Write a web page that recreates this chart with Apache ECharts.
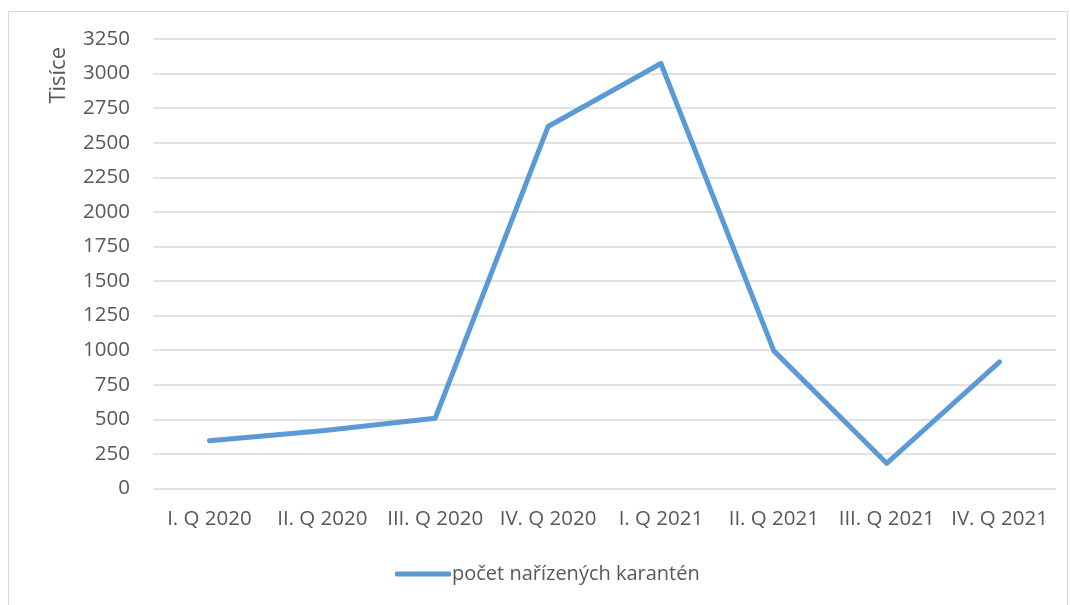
<!DOCTYPE html>
<html>
<head>
<meta charset="utf-8">
<script src="https://cdn.jsdelivr.net/npm/echarts@6/dist/echarts.min.js"></script>
<style>
    html, body { margin: 0; padding: 0; background: #fff; }
    #frame { position: absolute; left: 8px; top: 11px; width: 1060px; height: 600px; border: 1px solid #d9d9d9; box-sizing: border-box; }
    #chart { position: absolute; left: 0; top: 0; width: 1070px; height: 605px; }
</style>
</head>
<body>
<div id="frame"></div>
<div id="chart"></div>
<script type="text/javascript">
    // kvartály
    var quarters = ['I. Q 2020', 'II. Q 2020', 'III. Q 2020', 'IV. Q 2020', 'I. Q 2021', 'II. Q 2021', 'III. Q 2021', 'IV. Q 2021'];
    // počet nařízených karantén (tisíce)
    var quarantines = [346, 418, 508, 2617, 3073, 995, 182, 916];
    var seriesName = 'počet nařízených karantén';

    var myChart = echarts.init(document.getElementById('chart'));
    var textColor = '#595959';
    var fontFamily = '"Open Sans", "Noto Sans", sans-serif';

    var option = {
        animation: false,
        grid: { left: 153, right: 14, top: 39, bottom: 116.5 },
        legend: {
            left: 390,
            top: 559,
            data: [seriesName],
            itemWidth: 56,
            itemHeight: 5,
            itemGap: 4,
            icon: 'roundRect',
            textStyle: { color: textColor, fontSize: 20, fontFamily: fontFamily, padding: [0, 0, 0, -4] }
        },
        graphic: [{
            type: 'text',
            left: 48,
            top: 47,
            rotation: Math.PI / 2,
            style: { text: 'Tisíce', fill: textColor, font: '22px ' + fontFamily }
        }],
        xAxis: {
            type: 'category',
            data: quarters,
            boundaryGap: true,
            axisLine: { show: false },
            axisTick: { show: false },
            axisLabel: { color: textColor, fontSize: 20.5, fontFamily: fontFamily, margin: 20, interval: 0 }
        },
        yAxis: {
            type: 'value',
            min: 0,
            max: 3250,
            interval: 250,
            axisLine: { show: false },
            axisTick: { show: false },
            axisLabel: {
                color: textColor, fontSize: 20.5, fontFamily: fontFamily, margin: 23,
                formatter: function (v) { return String(v); }
            },
            splitLine: { lineStyle: { color: '#d9d9d9', width: 1.5 } }
        },
        series: [{
            name: seriesName,
            type: 'line',
            data: quarantines,
            showSymbol: false,
            symbol: 'none',
            color: '#5b9bd5',
            lineStyle: { width: 5, color: '#5b9bd5', cap: 'round', join: 'round' }
        }]
    };
    myChart.setOption(option);
</script>
</body>
</html>
